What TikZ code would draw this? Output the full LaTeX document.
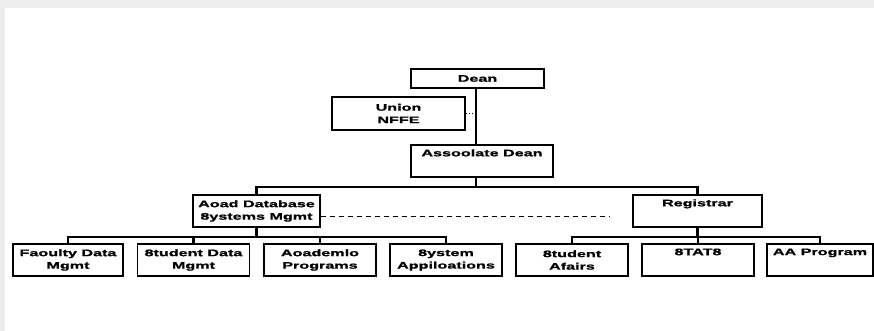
\documentclass[tikz,border=0pt]{standalone}
\usepackage{fontspec}
\newfontfamily\orgfont[FakeStretch=1.7,FakeBold=1.2]{Liberation Sans}
\usetikzlibrary{positioning}

\begin{document}
\begin{tikzpicture}[x=1pt,y=-1pt,
    boite/.style={draw,line width=1.3pt,align=center,inner sep=0pt,minimum height=32pt,
      font=\orgfont\bfseries\fontsize{9.5}{12.5}\selectfont},
    feuille/.style={boite,minimum width=112pt},
    lien/.style={line width=2.2pt}]
  \useasboundingbox (0,0) rectangle (874,331);
  \fill[black!7] (0,0) rectangle (874,331);
  \fill[white] (5,8) rectangle (874,331);
  % haut de l'organigramme
  \node[boite,minimum width=133pt,minimum height=19pt] (dean) at (477.5,78.5) {Dean};
  \node[boite,minimum width=133pt,minimum height=33pt] (union) at (398.5,113.5) {Union\\NFFE};
  \node[boite,minimum width=142pt] (assoc) at (482,161) {Assoolate Dean\\\strut};
  \node[boite,minimum width=127pt] (acad) at (256.5,211) {Aoad Database\\8ystems Mgmt};
  \node[boite,minimum width=129pt] (reg) at (697.5,211) {Registrar\\\strut};
  % services
  \node[feuille,minimum width=110pt] (fac) at (68,260) {Faoulty Data\\Mgmt};
  \node[feuille] (stud) at (193.5,260) {8tudent Data\\Mgmt};
  \node[feuille] (acpr) at (320,260) {Aoademlo\\Programs};
  \node[feuille] (sysapp) at (446,260) {8ystem\\Appiloations};
  \node[feuille] (staff) at (572,260) {8tudent\\Afairs};
  \node[feuille] (stats) at (698,260) {8TAT8\\\strut};
  \node[feuille,minimum width=106pt] (aaprog) at (820,260) {AA Program\\\strut};
  % liaisons
  \coordinate (hbus) at (476,187);
  \coordinate (gbus) at (256.5,237);
  \coordinate (dbus) at (697.5,237);
  \coordinate (finpointille) at (610,216);
  \draw[lien,line width=2.6pt] (dean.south -| hbus) -- (assoc.north -| hbus);
  \draw[lien] (assoc.south -| hbus) -- (hbus);
  \draw[lien] (acad.north) |- (hbus) -| (reg.north);
  \draw[dotted,line width=1pt] (union.east) -- (union.east -| hbus);
  \draw[dash pattern=on 5pt off 4pt,line width=0.9pt] (acad.east |- finpointille) -- (finpointille);
  \draw[lien] (acad.south) -- (gbus);
  \foreach \n in {fac,stud,acpr,sysapp} \draw[lien] (\n.north) |- (gbus);
  \draw[lien] (reg.south) -- (dbus);
  \foreach \n in {staff,stats,aaprog} \draw[lien] (\n.north) |- (dbus);
\end{tikzpicture}
\end{document}
